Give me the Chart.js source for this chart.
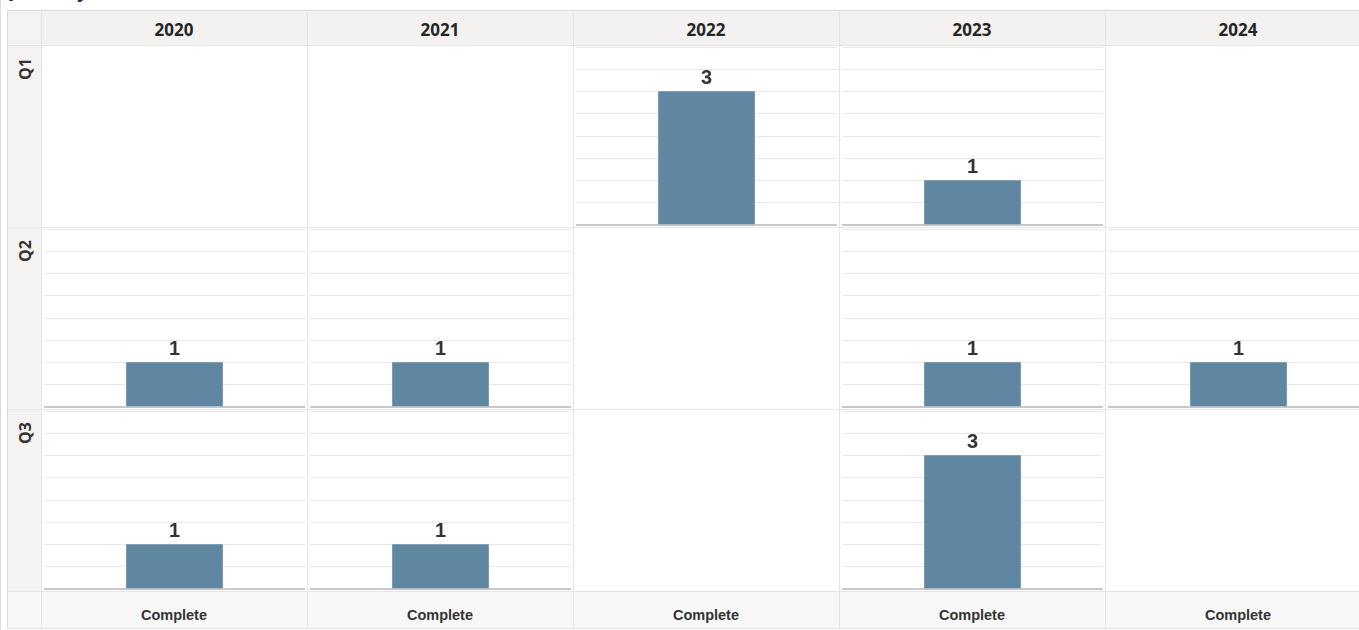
<!DOCTYPE html>
<html>
<head>
<meta charset="utf-8">
<script src="https://cdn.jsdelivr.net/npm/chart.js@4/dist/chart.umd.min.js"></script>
<style>
  html, body { margin: 0; padding: 0; width: 1359px; height: 630px; overflow: hidden; background: #fff; }
  #root { position: relative; width: 1359px; height: 630px; overflow: hidden; }
  .abs { position: absolute; box-sizing: border-box; }
  .hdr { background: #f3f2f0; font: bold 17px "Open Sans", sans-serif; color: #262626;
         display: flex; align-items: center; justify-content: center; padding-top: 3px; }
  .foot { background: #f8f8f8; font: bold 14.5px "Liberation Sans", Arial, sans-serif; color: #333;
          display: flex; align-items: center; justify-content: center; padding-top: 10px; }
  .rowhdr { background: #f4f3f1; }
  .rowlab { position: absolute; font: bold 16px "Open Sans", sans-serif; color: #333; white-space: nowrap;
            transform: translate(-50%, -50%) rotate(-90deg); }
  .vline { position: absolute; width: 1px; background: #e2e2e2; }
  .hline { position: absolute; height: 1px; background: #e2e2e2; }
  canvas { position: absolute; }
  .title { position: absolute; left: 0; top: -21px; font: bold 18px "Open Sans", sans-serif; color: #333; }
</style>
</head>
<body>
<div id="root"><div class="title">Quarterly</div></div>
<script>
// ---- data ----
const years = ['2020', '2021', '2022', '2023', '2024'];
const quarters = ['Q1', 'Q2', 'Q3'];
const q1Values = [null, null, 3, 1, null];
const q2Values = [1, 1, null, 1, 1];
const q3Values = [1, 1, null, 3, null];
const statusLabels = ['Complete', 'Complete', 'Complete', 'Complete', 'Complete'];
const axisMax = 4;
const axisStep = 0.5;

// ---- layout ----
const root = document.getElementById('root');
const gridLeft = 7, gridTop = 10;
const rowHdrW = 34, hdrH = 35, colW = 266, rowH = 182, footH = 37;
const plotLeft = gridLeft + rowHdrW;           // 41
const plotTop = gridTop + hdrH;                // 45
const footTop = plotTop + rowH * quarters.length; // 591
const gridBottom = footTop + footH;
const allValues = [q1Values, q2Values, q3Values];

function el(cls, x, y, w, h, text) {
  const d = document.createElement('div');
  d.className = 'abs ' + cls;
  d.style.left = x + 'px'; d.style.top = y + 'px';
  d.style.width = w + 'px'; d.style.height = h + 'px';
  if (text !== undefined) d.textContent = text;
  root.appendChild(d);
  return d;
}

// corner + headers
el('rowhdr', gridLeft, gridTop, rowHdrW, hdrH);
years.forEach((y, i) => el('hdr', plotLeft + i * colW, gridTop, colW, hdrH, y));
statusLabels.forEach((s, i) => el('foot', plotLeft + i * colW, footTop, colW, footH, s));
el('rowhdr', gridLeft, plotTop, rowHdrW, rowH * quarters.length);
el('rowhdr', gridLeft, footTop, rowHdrW, footH).style.background = '#f8f8f8';
quarters.forEach((q, r) => {
  const s = document.createElement('span');
  s.className = 'rowlab';
  s.textContent = q;
  s.style.left = (gridLeft + rowHdrW / 2 + 0.5) + 'px';
  s.style.top = (plotTop + r * rowH + 24) + 'px';
  root.appendChild(s);
});

// divider lines
function vline(x, y1, y2, c) { const d = document.createElement('div'); d.className = 'vline';
  d.style.left = x + 'px'; d.style.top = y1 + 'px'; d.style.height = (y2 - y1) + 'px'; if (c) d.style.background = c; root.appendChild(d); }
function hline(x1, x2, y, c) { const d = document.createElement('div'); d.className = 'hline';
  d.style.left = x1 + 'px'; d.style.top = y + 'px'; d.style.width = (x2 - x1) + 'px'; if (c) d.style.background = c; root.appendChild(d); }

vline(0, 0, 630, '#dcdcdc');
vline(gridLeft, gridTop, gridBottom, '#d8d8d8');
vline(plotLeft, gridTop, gridBottom, '#e4e4e4');
for (let i = 1; i < years.length; i++) vline(plotLeft + i * colW, gridTop, gridBottom, '#e4e4e4');
hline(gridLeft, 1359, gridTop, '#dcdcdc');
hline(gridLeft, 1359, plotTop, '#e4e4e4');
for (let r = 1; r < quarters.length; r++) hline(gridLeft, 1359, plotTop + r * rowH, '#e8e8e8');
hline(gridLeft, 1359, footTop, '#e4e4e4');
hline(gridLeft, 1359, gridBottom, '#e4e4e4');

// value label plugin
const valueLabels = {
  id: 'valueLabels',
  afterDatasetsDraw(chart) {
    const ctx = chart.ctx;
    const meta = chart.getDatasetMeta(0);
    const data = chart.data.datasets[0].data;
    ctx.save();
    ctx.font = 'bold 20px "Liberation Sans", Arial, sans-serif';
    ctx.fillStyle = '#333333';
    ctx.textAlign = 'center';
    ctx.textBaseline = 'alphabetic';
    meta.data.forEach((bar, i) => {
      if (data[i] == null) return;
      ctx.fillText(String(data[i]), bar.x, bar.y - 8);
    });
    ctx.restore();
  }
};

// charts
allValues.forEach((vals, r) => {
  vals.forEach((v, c) => {
    if (v == null) return;
    const cv = document.createElement('canvas');
    const cx = plotLeft + c * colW + 3;
    const cy = plotTop + r * rowH + 1;
    const w = colW - 5, h = rowH - 2;
    cv.width = w; cv.height = h;
    cv.style.left = cx + 'px'; cv.style.top = cy + 'px';
    cv.style.width = w + 'px'; cv.style.height = h + 'px';
    root.appendChild(cv);
    new Chart(cv, {
      type: 'bar',
      data: {
        labels: [quarters[r] + ' ' + years[c]],
        datasets: [{ data: [v], backgroundColor: '#5f87a1', borderColor: '#dfe6eb', borderWidth: 0, barThickness: 96 }]
      },
      options: {
        responsive: false,
        animation: false,
        devicePixelRatio: 1,
        layout: { padding: { top: 1, bottom: 1, left: 0, right: 0 } },
        plugins: { legend: { display: false }, tooltip: { enabled: false } },
        scales: {
          x: { display: false },
          y: {
            min: 0, max: axisMax,
            ticks: { display: false, stepSize: axisStep },
            border: { display: false },
            grid: {
              drawTicks: false,
              color: ctx => ctx.tick && ctx.tick.value === 0 ? '#c8c8c8' : '#e8e8e8',
              lineWidth: ctx => ctx.tick && ctx.tick.value === 0 ? 2 : 1
            },
            afterFit: s => { s.width = 0; }
          }
        }
      },
      plugins: [valueLabels]
    });
  });
});
</script>
</body>
</html>
